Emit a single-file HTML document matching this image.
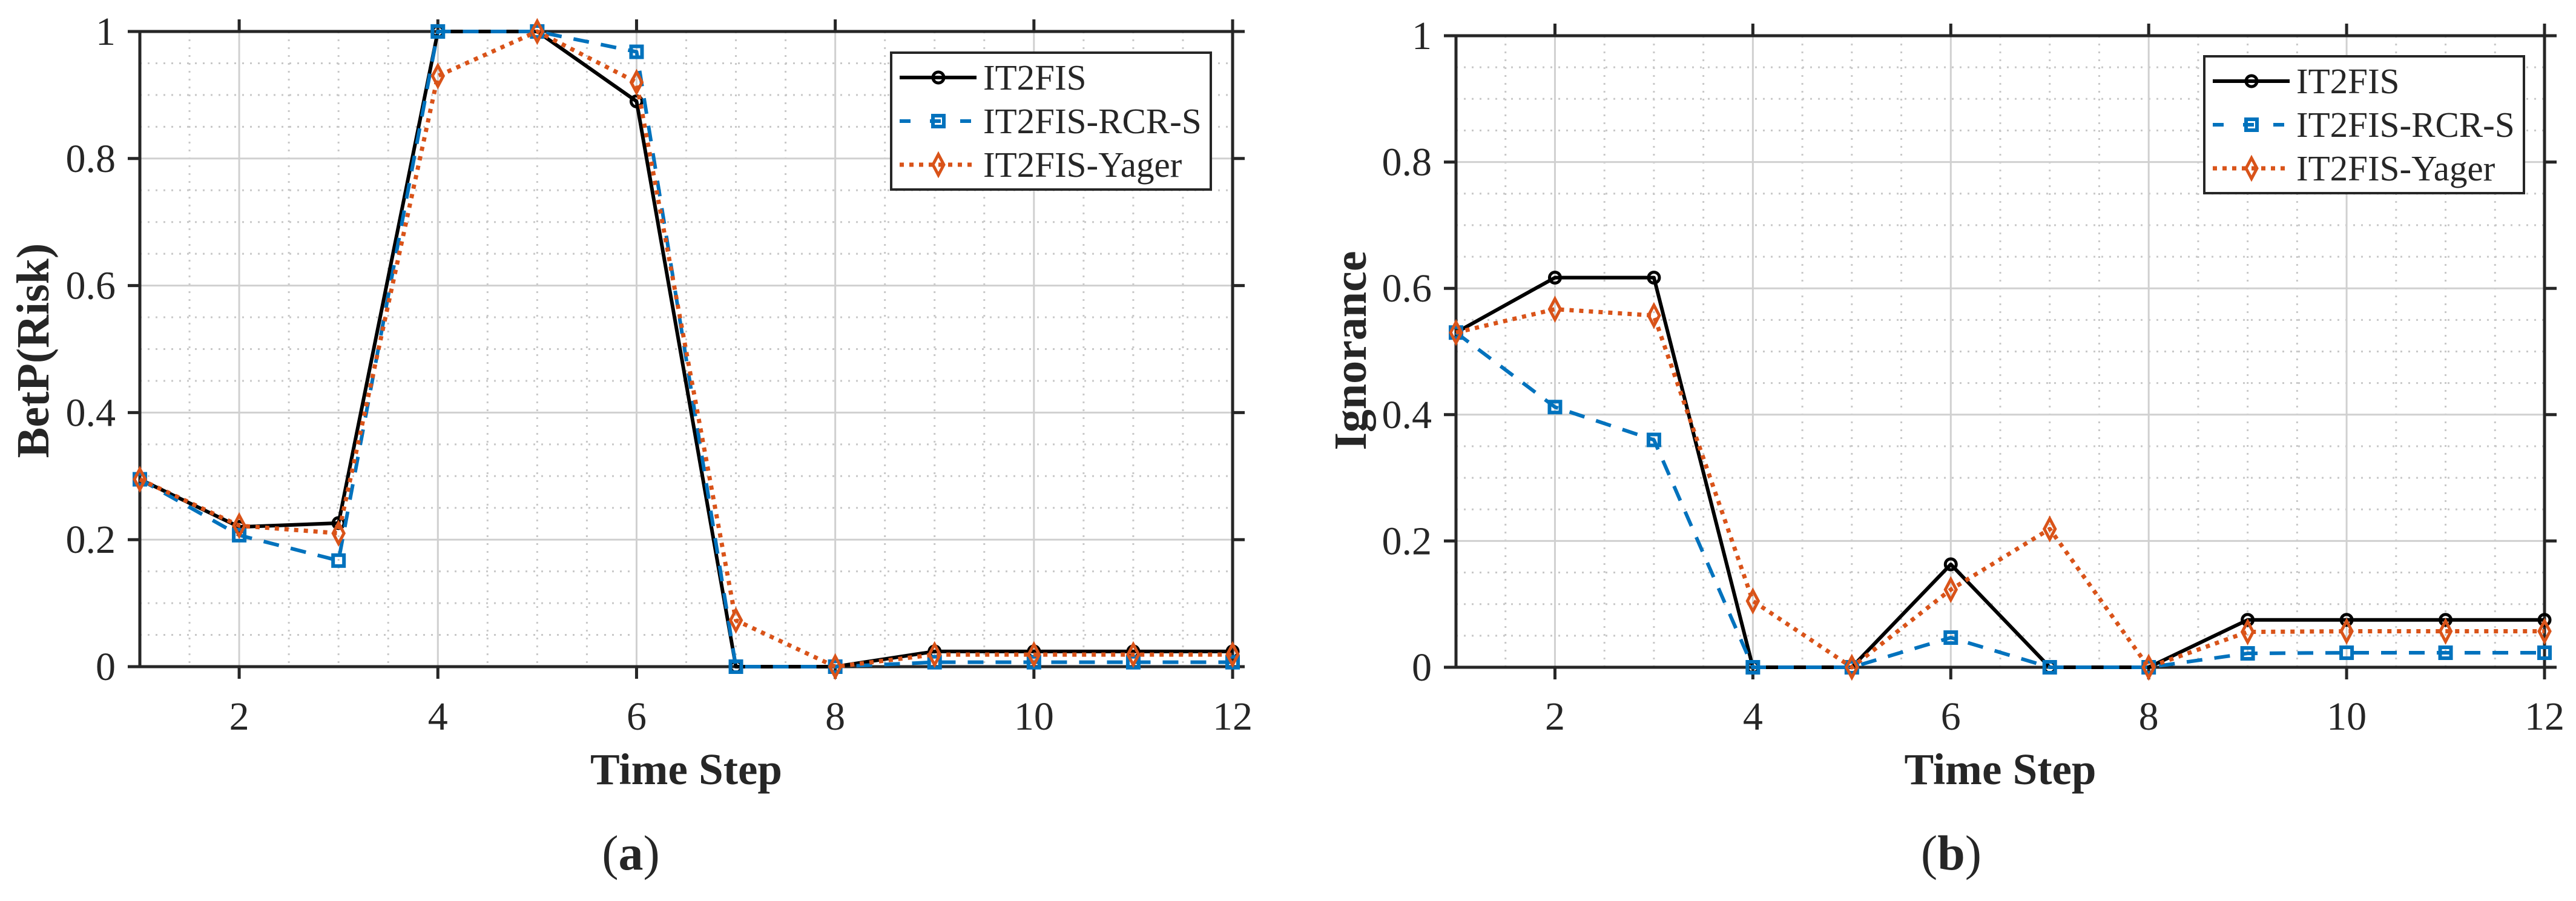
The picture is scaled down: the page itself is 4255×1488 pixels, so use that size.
<!DOCTYPE html>
<html><head><meta charset="utf-8"><style>
html,body{margin:0;padding:0;background:#fff;}
svg{display:block;}
text{font-family:"Liberation Serif","Times New Roman",serif;fill:#262626;}
</style></head><body>
<svg id="fig" width="4255" height="1488" viewBox="0 0 4255 1488" xmlns="http://www.w3.org/2000/svg"></svg>
<script>
const timeSteps = [1,2,3,4,5,6,7,8,9,10,11,12];
const xTicks = [2,4,6,8,10,12];
const yTicks = [0,0.2,0.4,0.6,0.8,1];
const yTickLabels = ["0","0.2","0.4","0.6","0.8","1"];
const seriesNames = ["IT2FIS","IT2FIS-RCR-S","IT2FIS-Yager"];
const betpIT2FIS = [0.295,0.220,0.226,1,1,0.890,0,0,0.024,0.024,0.024,0.024];
const betpRCRS = [0.295,0.207,0.167,1,1,0.968,0,0,0.007,0.007,0.007,0.007];
const betpYager = [0.295,0.222,0.210,0.930,1,0.920,0.073,0,0.019,0.019,0.019,0.019];
const ignIT2FIS = [0.530,0.617,0.617,0,0,0.163,0,0,0.075,0.075,0.075,0.075];
const ignRCRS = [0.530,0.412,0.360,0,0,0.047,0,0,0.022,0.023,0.023,0.023];
const ignYager = [0.530,0.567,0.557,0.105,0,0.123,0.219,0,0.056,0.057,0.057,0.057];

const NS="http://www.w3.org/2000/svg";
const svg=document.getElementById('fig');
function mk(tag,attrs,parent){const e=document.createElementNS(NS,tag);for(const k in attrs)e.setAttribute(k,attrs[k]);(parent||svg).appendChild(e);return e;}

const styles=[
 {color:"#000000",dash:"",marker:"circle",cap:"butt"},
 {color:"#0072BD",dash:"26 20",marker:"square",cap:"butt"},
 {color:"#D95319",dash:"7 9",marker:"diamond",cap:"butt"}
];

function marker(g,type,cx,cy,color){
  let m;
  if(type==="circle"){m=mk('circle',{cx:cx,cy:cy,r:9,fill:'none',stroke:color,'stroke-width':5},g);}
  else if(type==="square"){m=mk('rect',{x:cx-9,y:cy-9,width:18,height:18,fill:'none',stroke:color,'stroke-width':6},g);}
  else {m=mk('polygon',{points:`${cx},${cy-17} ${cx+9},${cy} ${cx},${cy+17} ${cx-9},${cy}`,fill:'none',stroke:color,'stroke-width':5},g);}
  return m;
}

function chart(opt){
  const g=mk('g',{});
  
  
  const L=opt.left,R=opt.right,T=opt.top,B=opt.bottom;
  const xs=v=>L+(v-1)/(12-1)*(R-L);
  const ys=v=>B-v*(B-T);
  // minor grid
  const mg=mk('g',{stroke:'#c8c8c8','stroke-width':3,'stroke-dasharray':'3 10'},g);
  
  
  for(let v=1.5;v<12;v+=0.5){if(v%2===0)continue;mk('line',{x1:xs(v),x2:xs(v),y1:T,y2:B},mg);}
  for(let k=1;k<20;k++){const v=k*0.05;if(k%4===0)continue;mk('line',{x1:L,x2:R,y1:ys(v),y2:ys(v)},mg);}
  // major grid
  const gg=mk('g',{stroke:'#d0d0d0','stroke-width':3},g);
  
  
  xTicks.forEach(v=>mk('line',{x1:xs(v),x2:xs(v),y1:T,y2:B},gg));
  yTicks.forEach(v=>mk('line',{x1:L,x2:R,y1:ys(v),y2:ys(v)},gg));
  // axes box
  const ax=mk('g',{stroke:'#262626','stroke-width':5,fill:'none'},g);
  
  
  mk('rect',{x:L,y:T,width:R-L,height:B-T},ax);
  xTicks.forEach(v=>{mk('line',{x1:xs(v),x2:xs(v),y1:B,y2:B+20},ax);mk('line',{x1:xs(v),x2:xs(v),y1:T,y2:T-20},ax);});
  yTicks.forEach(v=>{mk('line',{x1:L-20,x2:L,y1:ys(v),y2:ys(v)},ax);mk('line',{x1:R,x2:R+20,y1:ys(v),y2:ys(v)},ax);});
  // tick labels
  xTicks.forEach(v=>{const t=mk('text',{x:xs(v),y:1205,'font-size':66,'text-anchor':'middle'},g);t.textContent=String(v);
    
    });
  yTicks.forEach((v,i)=>{const t=mk('text',{x:L-40,y:ys(v)+22,'font-size':66,'text-anchor':'end'},g);t.textContent=yTickLabels[i];
    
    });
  // series
  opt.series.forEach((data,si)=>{
    const st=styles[si];
    const sg=mk('g',{},g);
    
    
    const pts=data.map((v,i)=>xs(timeSteps[i])+','+ys(v)).join(' ');
    const pl=mk('polyline',{points:pts,fill:'none',stroke:st.color,'stroke-width':si===2?7:6,'stroke-dasharray':st.dash,'stroke-linejoin':'round'},sg);
    
    
    data.forEach((v,i)=>{const m=marker(sg,st.marker,xs(timeSteps[i]),ys(v),st.color);
      
      });
  });
  // axis titles
  const xt=mk('text',{x:(L+R)/2,y:1295,'font-size':73,'font-weight':'bold','text-anchor':'middle'},g);
  xt.textContent='Time Step';
  
  
  const yt=mk('text',{x:0,y:0,'font-size':76,'font-weight':'bold','text-anchor':'middle',transform:`translate(${opt.ylabX},579) rotate(-90)`},g);
  yt.textContent=opt.ylabel;
  
  
  // sublabel
  const sl=mk('text',{x:opt.subX,y:1436,'font-size':82,'text-anchor':'middle'},g);
  sl.textContent='(';
  const b=mk('tspan',{'font-weight':'bold'},sl);b.textContent=opt.sub;
  const c=mk('tspan',{},sl);c.textContent=')';
  
  
  // legend
  const lg=mk('g',{},g);
  
  
  const lx=opt.legX,ly=opt.legY;
  mk('rect',{x:lx,y:ly,width:528,height:226,fill:'#fff',stroke:'#262626','stroke-width':4},lg);
  seriesNames.forEach((n,i)=>{
    const st=styles[i];const cy=ly+41+i*72;
    const e=mk('g',{},lg);
    
    
    mk('line',{x1:lx+14,x2:lx+141,y1:cy,y2:cy,stroke:st.color,'stroke-width':i===2?7:6,'stroke-dasharray':i===1?'18 32':(i===2?'7 9':'')},e);
    marker(e,st.marker,lx+78,cy,st.color);
    const t=mk('text',{x:lx+152,y:cy+20,'font-size':59},e);t.textContent=n;
  });
}

chart({name:'chart-betp',left:231,right:2036,top:52,bottom:1101,series:[betpIT2FIS,betpRCRS,betpYager],ylabel:'BetP(Risk)',ylabX:80,sub:'a',subX:1042,legX:1472,legY:87});
chart({name:'chart-ignorance',left:2405,right:4203,top:59,bottom:1102,series:[ignIT2FIS,ignRCRS,ignYager],ylabel:'Ignorance',ylabX:2256,sub:'b',subX:3223,legX:3641,legY:93});
</script>
</body></html>
